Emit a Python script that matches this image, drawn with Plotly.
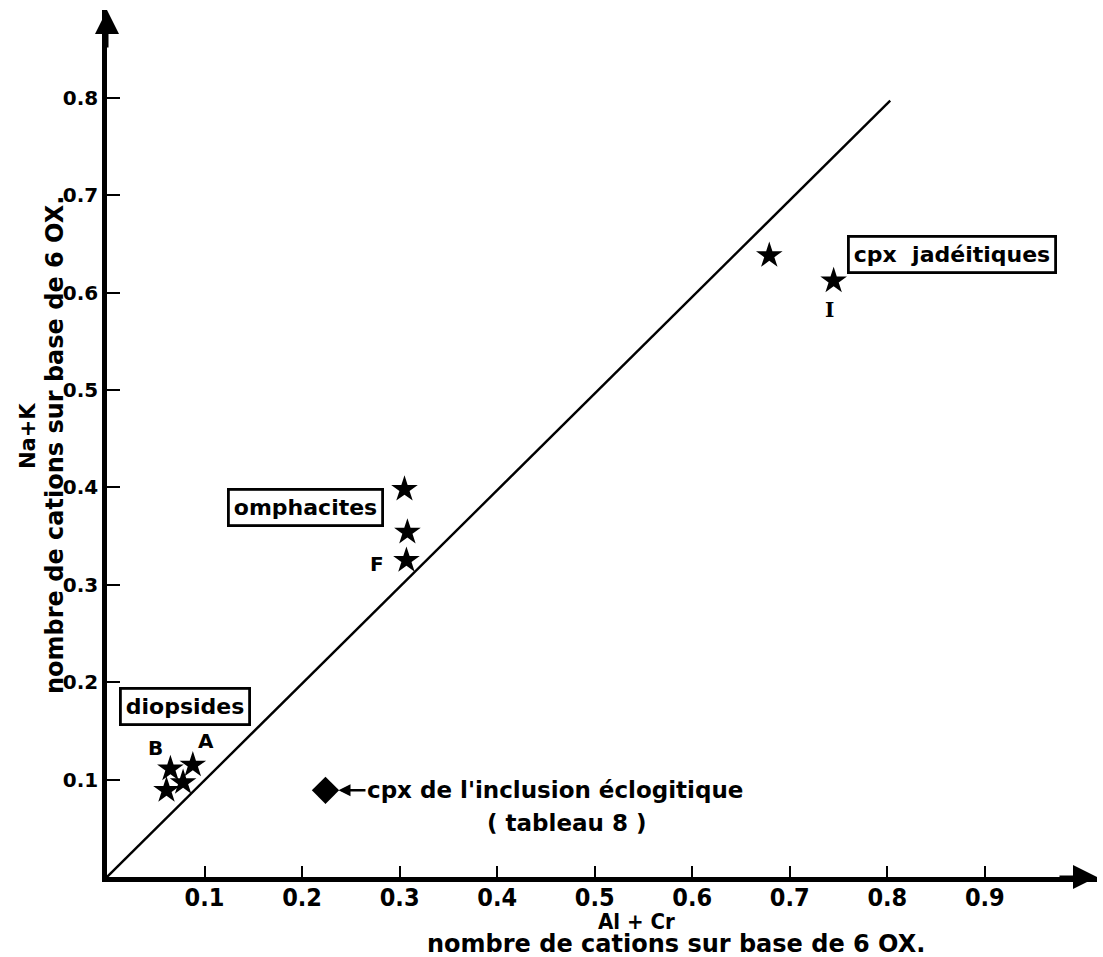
import plotly.graph_objects as go

# ---- data ----
diop_x = [0.065, 0.088, 0.061, 0.078]
diop_y = [0.111, 0.115, 0.089, 0.097]
omph_x = [0.305, 0.308, 0.307]
omph_y = [0.398, 0.354, 0.325]
jade_x = [0.679, 0.745]
jade_y = [0.638, 0.612]
ecl_x = [0.224]
ecl_y = [0.089]
line_x = [0.0, 0.803]
line_y = [0.0, 0.797]
x_ticks = [0.1, 0.2, 0.3, 0.4, 0.5, 0.6, 0.7, 0.8, 0.9]
y_ticks = [0.1, 0.2, 0.3, 0.4, 0.5, 0.6, 0.7, 0.8]
x_range = [0, 1.015]
y_range = [0, 0.89]

W, H = 1103, 957
ML, MR, MT, MB = 107, 6, 10, 80
PW = W - ML - MR
PH = H - MT - MB


def px(x):
    return (x - ML) / PW


def py(y):
    return (H - MB - y) / PH


SANS = "DejaVu Sans"
NARROW = "Liberation Sans Narrow, DejaVu Sans Condensed"


def f(size, family=SANS):
    return dict(family=family, size=size, color="black", weight="bold")


def paper_text(text, x, y, size, family=SANS, angle=0):
    return dict(x=px(x), y=py(y), xref="paper", yref="paper", text=text,
                showarrow=False, textangle=angle, xanchor="center",
                yanchor="middle", font=f(size, family))


fig = go.Figure()
fig.add_trace(go.Scatter(x=line_x, y=line_y, mode="lines",
                         line=dict(color="black", width=2.4), hoverinfo="skip"))
star = dict(symbol="star", size=20, color="black", line=dict(width=0))
for xs, ys in [(diop_x, diop_y), (omph_x, omph_y), (jade_x, jade_y)]:
    fig.add_trace(go.Scatter(x=xs, y=ys, mode="markers", marker=star))
fig.add_trace(go.Scatter(x=ecl_x, y=ecl_y, mode="markers",
                         marker=dict(symbol="diamond", size=21, color="black",
                                     line=dict(width=0))))

ann = []
# boxed group labels
for txt, x, y in [("diopsides", 0.080, 0.175), ("omphacites", 0.203, 0.379),
                  ("cpx  jadéitiques", 0.866, 0.639)]:
    ann.append(dict(x=x, y=y, text=txt, showarrow=False, font=f(22),
                    xanchor="center", yanchor="middle",
                    bordercolor="black", borderwidth=2.8, borderpad=4,
                    bgcolor="white"))
# point letters
for txt, x, y, fam in [("B", 0.050, 0.132, SANS), ("A", 0.101, 0.140, SANS),
                       ("F", 0.277, 0.321, SANS), ("I", 0.741, 0.582, "DejaVu Serif")]:
    ann.append(dict(x=x, y=y, text=txt, showarrow=False, font=f(20, fam),
                    xanchor="center", yanchor="middle"))
# eclogite label with arrow
ann.append(dict(x=ecl_x[0], y=ecl_y[0], text="cpx de l'inclusion éclogitique",
                showarrow=True, ax=40, ay=0, xanchor="left", yanchor="middle",
                arrowhead=2, arrowsize=1.0, arrowwidth=2.4, arrowcolor="black",
                standoff=13, font=f(23)))
ann.append(paper_text("( tableau 8 )", 566, 823, 23))
# axis titles
ann.append(paper_text("Al + Cr", 636, 922, 22, NARROW))
ann.append(paper_text("nombre de cations sur base de 6 OX.", 676, 944, 24))
ann.append(paper_text("Na+K", 28, 436, 21, angle=-90))
ann.append(paper_text("nombre de cations sur base de 6 OX.", 55, 445, 24, angle=-90))
# axis arrowheads
ann.append(dict(x=x_range[1], y=0, ax=x_range[1] - 0.04, ay=0,
                axref="x", ayref="y", text="", showarrow=True,
                arrowhead=2, arrowsize=1.6, arrowwidth=3, arrowcolor="black"))
ann.append(dict(x=0, y=y_range[1], ax=0, ay=y_range[1] - 0.04,
                axref="x", ayref="y", text="", showarrow=True,
                arrowhead=2, arrowsize=1.6, arrowwidth=3, arrowcolor="black"))

fig.update_layout(
    width=W, height=H, showlegend=False,
    margin=dict(l=ML, r=MR, t=MT, b=MB),
    paper_bgcolor="white", plot_bgcolor="white",
    annotations=ann,
    xaxis=dict(range=x_range, showgrid=False, zeroline=False,
               showline=True, linewidth=4.5, linecolor="black",
               ticks="inside", ticklen=11, tickwidth=2, tickcolor="black",
               tickvals=x_ticks, ticktext=[f"{v:.1f}" for v in x_ticks],
               tickfont=f(25, NARROW), ticklabelstandoff=-6),
    yaxis=dict(range=y_range, showgrid=False, zeroline=False,
               showline=True, linewidth=4.5, linecolor="black",
               ticks="inside", ticklen=13, tickwidth=2, tickcolor="black",
               tickvals=y_ticks, ticktext=[f"{v:.1f}" for v in y_ticks],
               tickfont=f(20)),
)
fig.write_html("out.html", config={"displayModeBar": False},
               post_script="document.body.style.margin='0';"
                           "document.body.style.overflow='hidden';")
